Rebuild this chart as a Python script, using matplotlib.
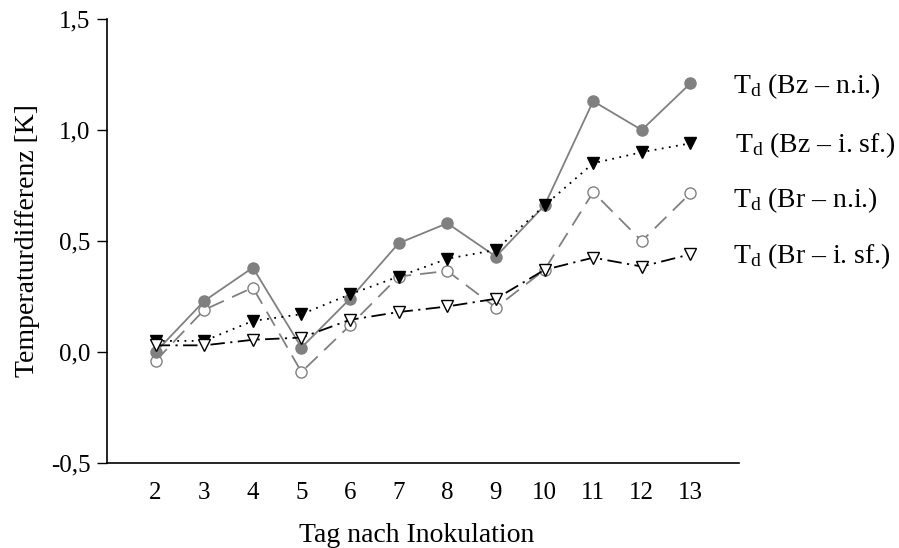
import matplotlib
matplotlib.use("Agg")
import matplotlib.pyplot as plt

plt.rcParams["font.family"] = ["Liberation Serif", "DejaVu Serif"]
plt.rcParams["mathtext.fontset"] = "custom"
plt.rcParams["mathtext.rm"] = "Liberation Serif"
plt.rcParams["mathtext.it"] = "Liberation Serif"

# Tag nach Inokulation
days = [2, 3, 4, 5, 6, 7, 8, 9, 10, 11, 12, 13]

# Temperaturdifferenz [K]
bz_ni = [0.00, 0.23, 0.38, 0.02, 0.24, 0.49, 0.58, 0.43, 0.66, 1.13, 1.00, 1.21]
bz_isf = [0.05, 0.05, 0.14, 0.17, 0.26, 0.34, 0.42, 0.46, 0.66, 0.85, 0.90, 0.94]
br_ni = [-0.04, 0.19, 0.29, -0.09, 0.12, 0.34, 0.365, 0.20, 0.37, 0.72, 0.50, 0.715]
br_isf = [0.03, 0.03, 0.055, 0.065, 0.145, 0.18, 0.205, 0.24, 0.37, 0.425, 0.385, 0.44]

series_names = ["(Bz \u2013 n.i.)", "(Bz \u2013 i. sf.)", "(Br \u2013 n.i.)", "(Br \u2013 i. sf.)"]
y_ticks = [-0.5, 0.0, 0.5, 1.0, 1.5]
y_ticklabels = ["-0,5", "0,0", "0,5", "1,0", "1,5"]

grey = "#808080"

fig = plt.figure(figsize=(8.99, 5.48), dpi=100)
ax = fig.add_axes([107 / 899, 85 / 548, 632 / 899, 444 / 548])

# open circles, long grey dashes
ax.plot(days, br_ni, color=grey, lw=1.3, dashes=(9, 5),
        marker="o", ms=8, mfc="white", mec=grey, mew=1.0, zorder=2)
# filled grey circles, solid grey line
ax.plot(days, bz_ni, color=grey, lw=1.3, linestyle="-",
        marker="o", ms=8, mfc=grey, mec=grey, zorder=3)
# filled black triangles, dotted
ax.plot(days, bz_isf, color="black", lw=1.3, linestyle=(0, (1, 3)),
        marker="v", ms=9, mfc="black", mec="black", zorder=4)
# open triangles, dash-dot
ax.plot(days, br_isf, color="black", lw=1.3, dashes=(8, 3, 1.2, 3),
        marker="v", ms=9, mfc="white", mec="black", mew=1.0, zorder=5)

ax.set_xlim(1, 14)
ax.set_ylim(-0.5, 1.5)
ax.set_xticks(days)
ax.set_xticklabels([str(d) for d in days])
ax.set_yticks(y_ticks)
ax.set_yticklabels(y_ticklabels)
ax.tick_params(axis="x", length=0, pad=14, labelsize=18)
ax.tick_params(axis="y", length=7, width=1.0, direction="out", pad=5, labelsize=18)

ax.spines["top"].set_visible(False)
ax.spines["right"].set_visible(False)
ax.spines["left"].set_linewidth(1.2)
ax.spines["bottom"].set_linewidth(1.2)

ax.set_xlabel("Tag nach Inokulation", fontsize=20)
ax.xaxis.set_label_coords(0.49, -0.135)
ax.set_ylabel("Temperaturdifferenz [K]", fontsize=20)
ax.yaxis.set_label_coords(-0.106, 0.5)

# labels on the right instead of a legend box
label_y = [93, 152, 207, 263]
label_x = [733, 735, 733, 733]
for name, lx, ly in zip(series_names, label_x, label_y):
    fig.text(lx / 899, 1 - ly / 548, r"T$_{\mathrm{d}}$ " + name,
             fontsize=20, ha="left", va="baseline")

fig.savefig("out.png", dpi=100)
